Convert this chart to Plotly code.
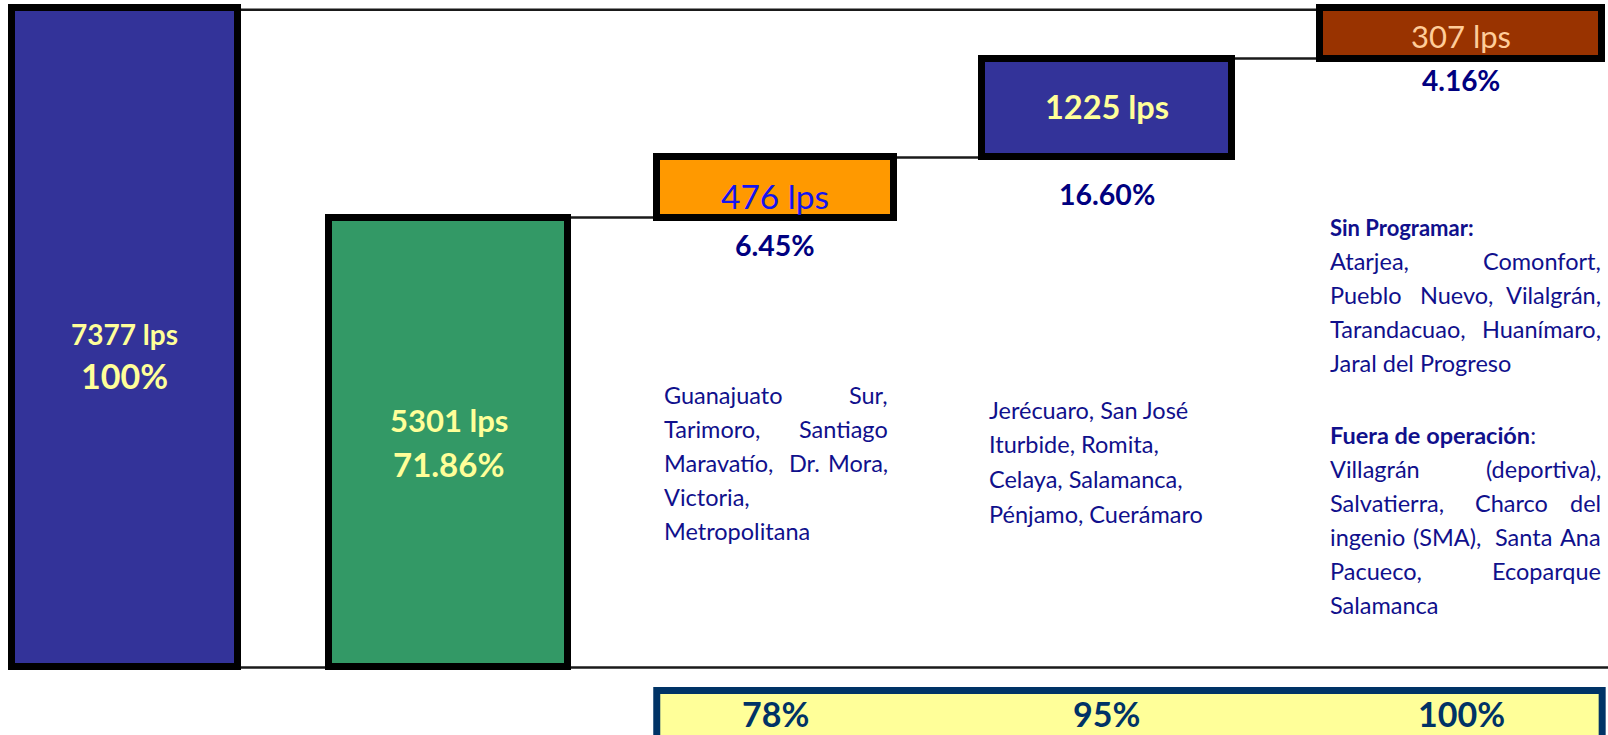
import plotly.graph_objects as go

# ---------------- data ----------------
categories = ["Caudal total", "En operación", "Programadas A", "Programadas B", "Sin programar / fuera de operación"]
# the drawing is not to scale of its labels: bar extents as drawn, in lps of the 7377 scale
drawn_base = [0, 0, 5037, 5709, 6817]
drawn_height = [7377, 5037, 672, 1108, 560]
flow_lps = [7377, 5301, 476, 1225, 307]
share_pct = ["100%", "71.86%", "6.45%", "16.60%", "4.16%"]
cumulative_pct = [None, None, "78%", "95%", "100%"]

block_programadas_a = ["Guanajuato Sur,", "Tarimoro, Santiago", "Maravatío, Dr. Mora,", "Victoria,", "Metropolitana"]
block_programadas_b = ["Jerécuaro, San José", "Iturbide, Romita,", "Celaya, Salamanca,", "Pénjamo, Cuerámaro"]
sin_programar = ["Atarjea, Comonfort,", "Pueblo Nuevo, Vilalgrán,", "Tarandacuao, Huanímaro,", "Jaral del Progreso"]
fuera_operacion = ["Villagrán (deportiva),", "Salvatierra, Charco del", "ingenio (SMA), Santa Ana",
                   "Pacueco, Ecoparque", "Salamanca"]

# ---------------- styles ----------------
W, H = 1608, 735
FONT = "Lato"
bar_colors = ["#333399", "#339966", "#FF9900", "#333399", "#993300"]
bar_widths = [0.678, 0.72, 0.711, 0.75, 0.847]
bar_nudge = [0.023, -0.0045, -0.024, -0.029, 0.035]   # slight uneven spacing of the drawn bars
YELLOW, NAVY, TXT = "#FFFF99", "#000080", "#10108C"
X_RANGE = [-0.351, 4.476]
Y_RANGE = [-756, 7472]

fig = go.Figure()
fig.add_trace(go.Bar(
    x=categories, y=drawn_height, base=drawn_base, width=bar_widths,
    offset=[n - w / 2 for n, w in zip(bar_nudge, bar_widths)],
    marker=dict(color=bar_colors, line=dict(color="black", width=7)),
    hoverinfo="skip", showlegend=False,
))

def center(i):
    return i + bar_nudge[i]

def left_edge(i):
    return center(i) - bar_widths[i] / 2

def right_edge(i):
    return center(i) + bar_widths[i] / 2

tops = [b + h for b, h in zip(drawn_base, drawn_height)]
line_style = dict(color="#1a1a1a", width=2.5)
shapes = []
# baseline
shapes.append(dict(type="line", xref="x", yref="y", x0=right_edge(0), x1=X_RANGE[1], y0=0, y1=0,
                   line=line_style, layer="below"))
# total level line
shapes.append(dict(type="line", xref="x", yref="y", x0=right_edge(0), x1=left_edge(4), y0=tops[0] - 15,
                   y1=tops[0] - 15, line=line_style, layer="below"))
# step connectors
for i in range(1, 4):
    shapes.append(dict(type="line", xref="x", yref="y", x0=right_edge(i), x1=left_edge(i + 1),
                       y0=tops[i], y1=tops[i], line=line_style, layer="below"))
# cumulative box at the bottom
shapes.append(dict(type="rect", xref="x", yref="paper", x0=left_edge(2), x1=right_edge(4),
                   y0=-0.2, y1=1 - 690.5 / H, fillcolor="#FFFF99",
                   line=dict(color="#003366", width=7), layer="above"))

annotations = []

def py(v):
    return 1 - v / H

def px(v):
    return v / W

def ann_bar(i, ypix, text, color, size):
    annotations.append(dict(x=center(i), xref="x", y=py(ypix), yref="paper", text=text, showarrow=False,
                            xanchor="center", yanchor="middle",
                            font=dict(family=FONT, size=size, color=color)))

# labels inside / under bars
ann_bar(0, 334, f"<b>{flow_lps[0]} lps</b>", YELLOW, 28)
ann_bar(0, 375, f"<b>{share_pct[0]}</b>", YELLOW, 34)
ann_bar(1, 420, f"<b>{flow_lps[1]} lps</b>", YELLOW, 31)
ann_bar(1, 464, f"<b>{share_pct[1]}</b>", YELLOW, 33)
ann_bar(2, 196, f"{flow_lps[2]} lps", "#1414F0", 33.5)
ann_bar(2, 245, f"<b>{share_pct[2]}</b>", NAVY, 28.5)
ann_bar(3, 106, f"<b>{flow_lps[3]} lps</b>", YELLOW, 32.5)
ann_bar(3, 194, f"<b>{share_pct[3]}</b>", NAVY, 28.5)
ann_bar(4, 36, f"{flow_lps[4]} lps", "#FFCC99", 31)
ann_bar(4, 80, f"<b>{share_pct[4]}</b>", NAVY, 28)
for i, c in enumerate(cumulative_pct):
    if c:
        ann_bar(i, 713, f"<b>{c}</b>", "#003366", 34)

# ---------------- text blocks ----------------
FS = 23.5

def char_w(c):
    if c in "il.,:;'íjI!|":
        return 0.24
    if c in "tfr()":
        return 0.34
    if c in "mMwW":
        return 0.84
    if c == " ":
        return 0.2
    if c.isupper():
        return 0.64
    return 0.52

def word_w(wd):
    return sum(char_w(c) for c in wd) * FS

def text_line(x, ypix, text, anchor="left", bold=False, size=FS):
    annotations.append(dict(x=px(x), xref="paper", y=py(ypix), yref="paper",
                            text=f"<b>{text}</b>" if bold else text, showarrow=False,
                            xanchor=anchor, yanchor="middle",
                            font=dict(family=FONT, size=size, color=TXT)))

def justified(left, right, ypix, line):
    words = line.split()
    if len(words) == 1:
        text_line(left, ypix, line)
        return
    total = sum(word_w(w) for w in words)
    gap = (right - left - total) / (len(words) - 1)
    text_line(left, ypix, words[0])
    x = left + word_w(words[0]) + gap
    for w in words[1:-1]:
        text_line(x, ypix, w)
        x += word_w(w) + gap
    text_line(right, ypix, words[-1], anchor="right")

def paragraph(left, right, y0, lines, step=34):
    for k, line in enumerate(lines):
        y = y0 + k * step
        if k < len(lines) - 1:
            justified(left, right, y, line)
        else:
            text_line(left, y, line)

paragraph(662, 890, 395, block_programadas_a[:4])
text_line(662, 395 + 4 * 34, block_programadas_a[4])
for k, line in enumerate(block_programadas_b):
    text_line(987, 410 + k * 34.5, line)

text_line(1328, 227, "Sin Programar:", bold=True, size=22)
paragraph(1328, 1603, 261, sin_programar)
text_line(1328, 435, "<b>Fuera de operación</b>:")
paragraph(1328, 1603, 469, fuera_operacion)

fig.update_layout(
    width=W, height=H, margin=dict(l=0, r=0, t=0, b=0),
    paper_bgcolor="white", plot_bgcolor="white",
    xaxis=dict(visible=False, range=X_RANGE, type="category"),
    yaxis=dict(visible=False, range=Y_RANGE),
    shapes=shapes, annotations=annotations, bargap=0, showlegend=False,
)

fig.write_html("out.html", config={"displayModeBar": False},
               post_script="document.body.style.margin='0px';document.body.style.overflow='hidden';")
